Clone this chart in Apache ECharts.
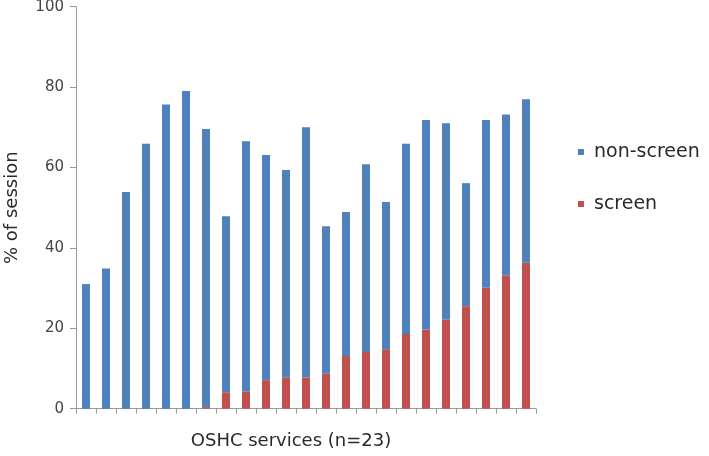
<!DOCTYPE html>
<html><head><meta charset="utf-8">
<script src="https://cdn.jsdelivr.net/npm/echarts@6/dist/echarts.min.js"></script>
<style>html,body{margin:0;padding:0;background:#fff}#c{width:709px;height:456px}</style>
</head><body><div id="c"></div>
<script>
const categories = ['1','2','3','4','5','6','7','8','9','10','11','12','13','14','15','16','17','18','19','20','21','22','23'];
const totals = [31.0,34.9,53.9,65.9,75.7,79.0,69.6,47.9,66.5,63.1,59.4,70.0,45.4,48.9,60.8,51.4,65.9,71.8,71.0,56.1,71.8,73.2,77.0];
const screen = [0,0,0,0,0,0,0.4,4.1,4.2,7.1,7.7,7.8,8.7,13.1,14.1,14.8,18.6,19.7,22.1,25.5,30.1,33.2,36.3];
const nonScreen = totals.map((t,i)=>+(t-screen[i]).toFixed(1));
const yTicks = [0,20,40,60,80,100];
const FONT = 'DejaVu Sans';
const chart = echarts.init(document.getElementById('c'));
chart.setOption({
  animation:false,
  textStyle:{fontFamily:FONT},
  grid:{left:76,right:173,top:6.7,bottom:47.3,containLabel:false,outerBoundsMode:'none'},
  legend:{
    orient:'vertical', left:573, top:136, itemGap:30,
    itemWidth:6, itemHeight:6, icon:'rect',
    data:['non-screen','screen'],
    textStyle:{fontFamily:FONT,fontSize:19,color:'#2a2a2a',lineHeight:22,padding:[0,0,0,5]}
  },
  xAxis:{
    type:'category', data:categories, boundaryGap:true,
    name:'OSHC services (n=23)', nameLocation:'middle', nameGap:24,
    nameTextStyle:{fontFamily:FONT,fontSize:18,color:'#2a2a2a',padding:[0,30,0,0]},
    axisLine:{lineStyle:{color:'#9a9a9a'}},
    axisTick:{show:true,interval:0,length:5,lineStyle:{color:'#9a9a9a'}},
    axisLabel:{show:false,interval:0}
  },
  yAxis:{
    type:'value', min:yTicks[0], max:yTicks[yTicks.length-1], interval:20,
    name:'% of session', nameLocation:'middle', nameGap:55, nameRotate:90,
    nameTextStyle:{fontFamily:FONT,fontSize:18,color:'#2a2a2a'},
    axisLine:{show:true,lineStyle:{color:'#9a9a9a'}},
    axisTick:{show:true,length:6,lineStyle:{color:'#9a9a9a'}},
    axisLabel:{fontFamily:FONT,fontSize:15,color:'#444',margin:12},
    splitLine:{show:false}
  },
  series:[
    {name:'screen',type:'bar',stack:'s',data:screen,barWidth:8,itemStyle:{color:'#C0504D'}},
    {name:'non-screen',type:'bar',stack:'s',data:nonScreen,barWidth:8,itemStyle:{color:'#4F81BD'}}
  ]
});
</script></body></html>
